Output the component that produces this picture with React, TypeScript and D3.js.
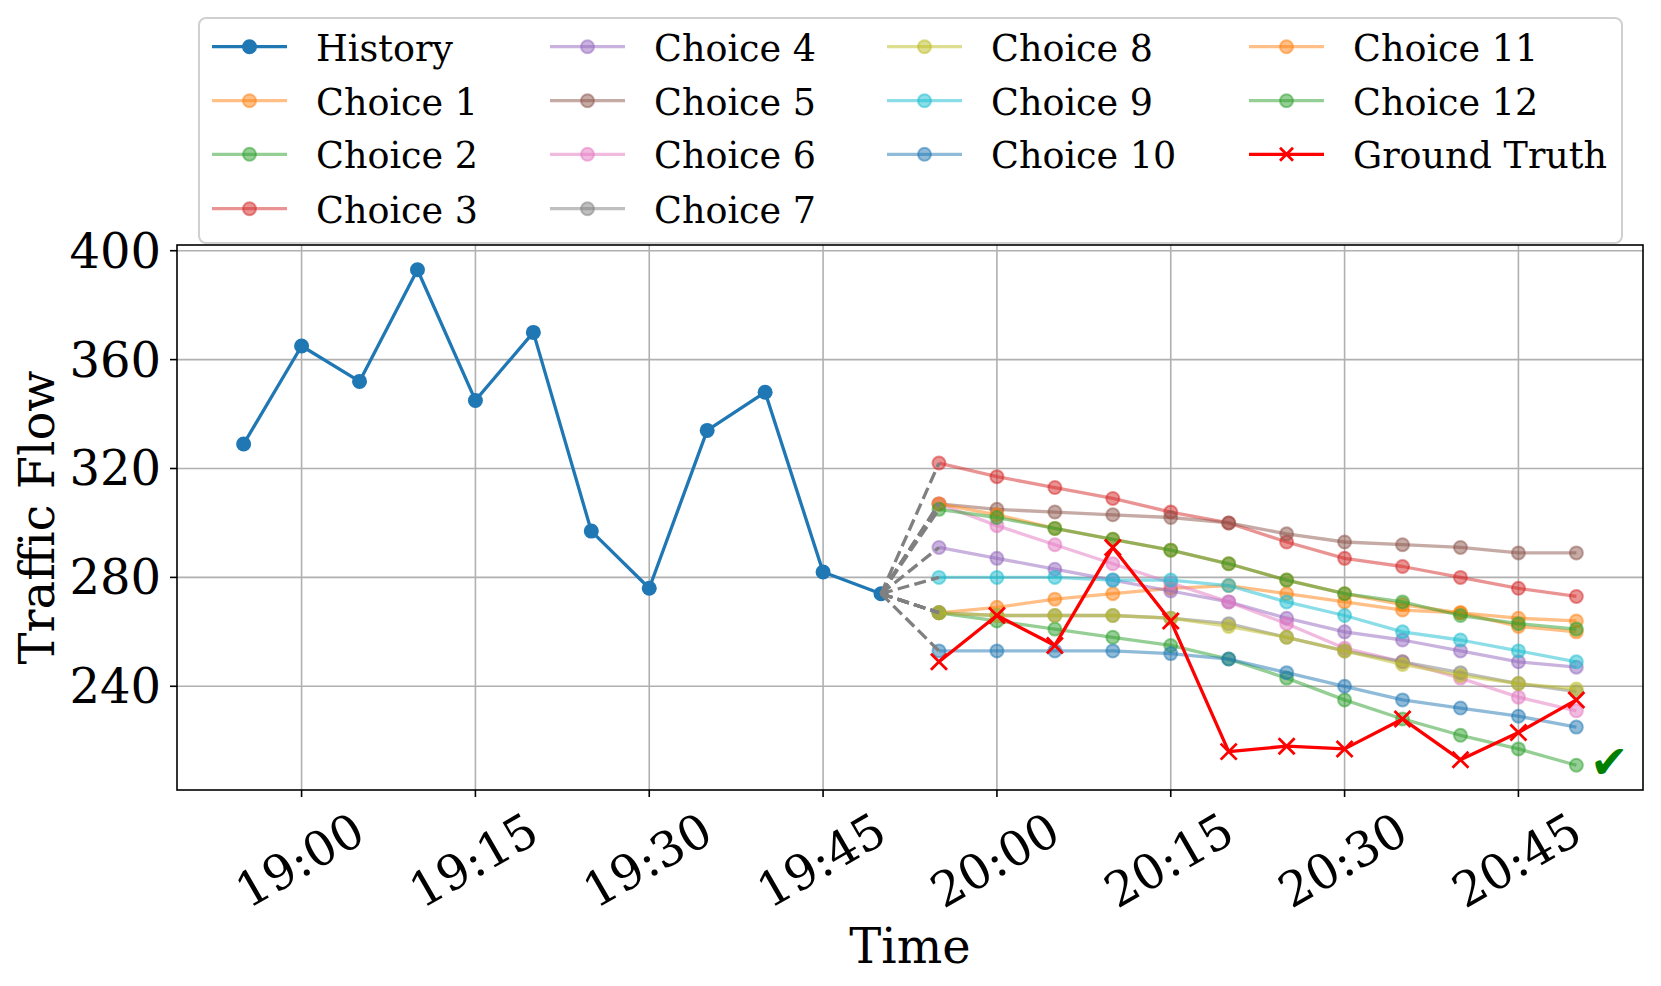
import React, { useEffect, useRef } from "react";
import * as d3 from "d3";

// ---- data ----
const historyTimes = ["18:55", "19:00", "19:05", "19:10", "19:15", "19:20", "19:25", "19:30", "19:35", "19:40", "19:45", "19:50"];
const historyValues = [329, 365, 352, 393, 345, 370, 297, 276, 334, 348, 282, 274];

const forecastTimes = ["19:55", "20:00", "20:05", "20:10", "20:15", "20:20", "20:25", "20:30", "20:35", "20:40", "20:45", "20:50"];

const choice1 = [267, 269, 272, 274, 276, 277, 274, 271, 268, 267, 265, 264];
const choice2 = [267, 264, 261, 258, 255, 250, 243, 235, 228, 222, 217, 211];
const choice3 = [322, 317, 313, 309, 304, 300, 293, 287, 284, 280, 276, 273];
const choice4 = [291, 287, 283, 279, 275, 271, 265, 260, 257, 253, 249, 247];
const choice5 = [307, 305, 304, 303, 302, 300, 296, 293, 292, 291, 289, 289];
const choice6 = [307, 299, 292, 285, 278, 271, 263, 254, 249, 243, 236, 231];
const choice7 = [267, 266, 266, 266, 265, 263, 258, 253, 249, 245, 241, 238];
const choice8 = [267, 266, 266, 266, 265, 262, 258, 253, 248, 244, 241, 239];
const choice9 = [280, 280, 280, 279, 279, 277, 271, 266, 260, 257, 253, 249];
const choice10 = [253, 253, 253, 253, 252, 250, 245, 240, 235, 232, 229, 225];
const choice11 = [307, 303, 298, 294, 290, 285, 279, 274, 270, 267, 262, 260];
const choice12 = [305, 302, 298, 294, 290, 285, 279, 274, 271, 266, 263, 261];

const groundTruth = [249, 266, 255, 291, 264, 216, 218, 217, 228, 213, 223, 235];

const choices = [choice1, choice2, choice3, choice4, choice5, choice6, choice7, choice8, choice9, choice10, choice11, choice12];
const choiceNames = choices.map((_, i) => `Choice ${i + 1}`);
const choiceColors = ["#ff7f0e", "#2ca02c", "#d62728", "#9467bd", "#8c564b", "#e377c2", "#7f7f7f", "#bcbd22", "#17becf", "#1f77b4", "#ff7f0e", "#2ca02c"];
const bestChoice = 1; // index of the choice marked with a check

const xTickLabels = ["19:00", "19:15", "19:30", "19:45", "20:00", "20:15", "20:30", "20:45"];
const yTicks = [240, 280, 320, 360, 400];

// ---- layout ----
const W = 1661;
const H = 986;
const plot = { left: 177, right: 1643, top: 245, bottom: 790 };
const SERIF = "'DejaVu Serif', serif";
const LW = 3.3;

const toDate = (t: string) => {
  const [h, m] = t.split(":").map(Number);
  return new Date(2024, 0, 1, h, m);
};

export default function App() {
  const svgRef = useRef<SVGSVGElement | null>(null);

  useEffect(() => {
    if (!svgRef.current) return;
    const svg = d3.select(svgRef.current);
    svg.selectAll("*").remove();

    const hx = historyTimes.map(toDate);
    const fx = forecastTimes.map(toDate);

    // matplotlib-style 5% margins
    const t0 = +hx[0];
    const t1 = +fx[fx.length - 1];
    const tPad = (t1 - t0) * 0.05;
    const x = d3.scaleTime()
      .domain([new Date(t0 - tPad), new Date(t1 + tPad)])
      .range([plot.left, plot.right]);

    const allVals = [...historyValues, ...groundTruth, ...choices.flat()];
    const vMin = d3.min(allVals) ?? 0;
    const vMax = d3.max(allVals) ?? 1;
    const vPad = (vMax - vMin) * 0.05;
    const y = d3.scaleLinear()
      .domain([vMin - vPad, vMax + vPad])
      .range([plot.bottom, plot.top]);

    const line = d3.line<[Date, number]>()
      .x((d) => x(d[0]))
      .y((d) => y(d[1]));

    // grid
    const grid = svg.append("g");
    xTickLabels.forEach((t) => {
      grid.append("line")
        .attr("x1", x(toDate(t))).attr("x2", x(toDate(t)))
        .attr("y1", plot.top).attr("y2", plot.bottom)
        .attr("stroke", "#b0b0b0").attr("stroke-width", 1.6);
    });
    yTicks.forEach((v) => {
      grid.append("line")
        .attr("x1", plot.left).attr("x2", plot.right)
        .attr("y1", y(v)).attr("y2", y(v))
        .attr("stroke", "#b0b0b0").attr("stroke-width", 1.6);
    });

    // history
    const histData = hx.map((d, i) => [d, historyValues[i]] as [Date, number]);
    svg.append("path")
      .datum(histData)
      .attr("d", line)
      .attr("fill", "none")
      .attr("stroke", "#1f77b4")
      .attr("stroke-width", LW)
      .attr("stroke-linejoin", "round");
    svg.append("g").selectAll("circle")
      .data(histData)
      .join("circle")
      .attr("cx", (d) => x(d[0]))
      .attr("cy", (d) => y(d[1]))
      .attr("r", 7.5)
      .attr("fill", "#1f77b4");

    // choices
    choices.forEach((vals, ci) => {
      const data = fx.map((d, i) => [d, vals[i]] as [Date, number]);
      const g = svg.append("g");
      g.append("path")
        .datum(data)
        .attr("d", line)
        .attr("fill", "none")
        .attr("stroke", choiceColors[ci])
        .attr("stroke-opacity", 0.5)
        .attr("stroke-width", LW)
        .attr("stroke-linejoin", "round");
      g.selectAll("circle")
        .data(data)
        .join("circle")
        .attr("cx", (d) => x(d[0]))
        .attr("cy", (d) => y(d[1]))
        .attr("r", 6.5)
        .attr("fill", choiceColors[ci])
        .attr("fill-opacity", 0.5)
        .attr("stroke", choiceColors[ci])
        .attr("stroke-opacity", 0.5)
        .attr("stroke-width", 2);
    });

    // dashed connectors from last history point to first forecast points
    const lastH = histData[histData.length - 1];
    choices.forEach((vals) => {
      svg.append("path")
        .datum([lastH, [fx[0], vals[0]] as [Date, number]])
        .attr("d", line)
        .attr("fill", "none")
        .attr("stroke", "#808080")
        .attr("stroke-width", LW)
        .attr("stroke-dasharray", "12,5.3");
    });

    // ground truth
    const gtData = fx.map((d, i) => [d, groundTruth[i]] as [Date, number]);
    svg.append("path")
      .datum(gtData)
      .attr("d", line)
      .attr("fill", "none")
      .attr("stroke", "#ff0000")
      .attr("stroke-width", LW)
      .attr("stroke-linejoin", "round");
    const s = 8;
    svg.append("g").selectAll("path")
      .data(gtData)
      .join("path")
      .attr("d", (d) => {
        const cx = x(d[0]);
        const cy = y(d[1]);
        return `M${cx - s},${cy - s}L${cx + s},${cy + s}M${cx - s},${cy + s}L${cx + s},${cy - s}`;
      })
      .attr("stroke", "#ff0000")
      .attr("stroke-width", 2.8)
      .attr("fill", "none");

    // check mark next to the best choice
    const best = choices[bestChoice];
    svg.append("text")
      .attr("x", x(fx[fx.length - 1]) + 33)
      .attr("y", y(best[best.length - 1]) - 3)
      .attr("text-anchor", "middle")
      .attr("dominant-baseline", "central")
      .attr("font-family", "'DejaVu Sans', sans-serif")
      .attr("font-size", 46)
      .attr("fill", "#008000")
      .text("\u2714");

    // frame
    svg.append("rect")
      .attr("x", plot.left).attr("y", plot.top)
      .attr("width", plot.right - plot.left).attr("height", plot.bottom - plot.top)
      .attr("fill", "none").attr("stroke", "#000").attr("stroke-width", 1.6);

    // x ticks
    const xt = svg.append("g");
    xTickLabels.forEach((t) => {
      const px = x(toDate(t));
      xt.append("line")
        .attr("x1", px).attr("x2", px)
        .attr("y1", plot.bottom).attr("y2", plot.bottom + 7)
        .attr("stroke", "#000").attr("stroke-width", 1.6);
      xt.append("text")
        .attr("transform", `translate(${px - 2},${plot.bottom + 70}) rotate(-30)`)
        .attr("text-anchor", "middle")
        .attr("dominant-baseline", "central")
        .attr("font-family", SERIF)
        .attr("font-size", 48)
        .text(t);
    });

    // y ticks
    const yt = svg.append("g");
    yTicks.forEach((v) => {
      yt.append("line")
        .attr("x1", plot.left - 7).attr("x2", plot.left)
        .attr("y1", y(v)).attr("y2", y(v))
        .attr("stroke", "#000").attr("stroke-width", 1.6);
      yt.append("text")
        .attr("x", plot.left - 16)
        .attr("y", y(v) + 17)
        .attr("text-anchor", "end")
        .attr("font-family", SERIF)
        .attr("font-size", 48)
        .text(v);
    });

    // axis labels
    svg.append("text")
      .attr("x", (plot.left + plot.right) / 2)
      .attr("y", 963)
      .attr("text-anchor", "middle")
      .attr("font-family", SERIF)
      .attr("font-size", 48)
      .text("Time");
    svg.append("text")
      .attr("transform", `translate(37,${(plot.top + plot.bottom) / 2}) rotate(-90)`)
      .attr("text-anchor", "middle")
      .attr("dominant-baseline", "central")
      .attr("font-family", SERIF)
      .attr("font-size", 48)
      .text("Traffic Flow");

    // legend
    const lg = svg.append("g");
    lg.append("rect")
      .attr("x", 199).attr("y", 18)
      .attr("width", 1423).attr("height", 225)
      .attr("rx", 7)
      .attr("fill", "#fff").attr("fill-opacity", 0.8)
      .attr("stroke", "#d0d0d0").attr("stroke-width", 2);

    type Entry = { label: string; color: string; alpha: number; marker: "o" | "x" };
    const entries: Entry[] = [
      { label: "History", color: "#1f77b4", alpha: 1, marker: "o" },
      ...choiceNames.map((n, i) => ({ label: n, color: choiceColors[i], alpha: 0.5, marker: "o" as const })),
      { label: "Ground Truth", color: "#ff0000", alpha: 1, marker: "x" },
    ];
    const colX = [212, 550, 887, 1249];
    const rowY = [46.7, 100.7, 154.3, 208.7];
    const colSizes = [4, 4, 3, 3];
    const ls = 6.5;
    let k = 0;
    colSizes.forEach((n, c) => {
      for (let r = 0; r < n; r++) {
        const e = entries[k++];
        const x0 = colX[c];
        const cy = rowY[r];
        lg.append("line")
          .attr("x1", x0).attr("x2", x0 + 75)
          .attr("y1", cy).attr("y2", cy)
          .attr("stroke", e.color)
          .attr("stroke-opacity", e.alpha)
          .attr("stroke-width", LW);
        if (e.marker === "o") {
          lg.append("circle")
            .attr("cx", x0 + 37.5).attr("cy", cy).attr("r", e.alpha === 1 ? 7.5 : 6.5)
            .attr("fill", e.color).attr("fill-opacity", e.alpha)
            .attr("stroke", e.color).attr("stroke-opacity", e.alpha)
            .attr("stroke-width", e.alpha === 1 ? 0 : 2);
        } else {
          const mx = x0 + 37.5;
          lg.append("path")
            .attr("d", `M${mx - ls},${cy - ls}L${mx + ls},${cy + ls}M${mx - ls},${cy + ls}L${mx + ls},${cy - ls}`)
            .attr("stroke", e.color).attr("stroke-width", 2.8);
        }
        lg.append("text")
          .attr("x", x0 + 104)
          .attr("y", cy + 14)
          .attr("font-family", SERIF)
          .attr("font-size", 36.5)
          .text(e.label);
      }
    });
  }, []);

  return (
    <div style={{ position: "absolute", left: 0, top: 0 }}>
      <svg ref={svgRef} width={W} height={H} style={{ display: "block", background: "#fff" }} />
    </div>
  );
}
